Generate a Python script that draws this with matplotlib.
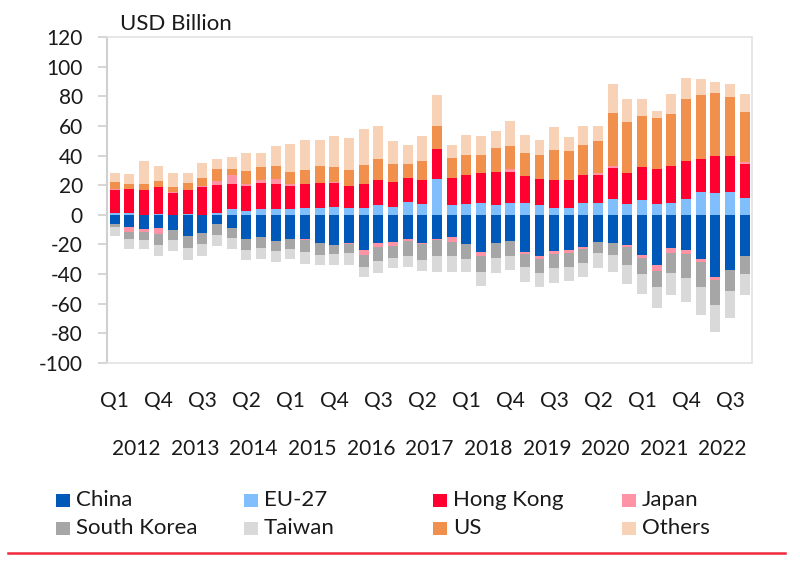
import numpy as np
import matplotlib
matplotlib.use("Agg")
import matplotlib.pyplot as plt
from matplotlib.patches import Rectangle
from matplotlib.lines import Line2D
from matplotlib.ticker import FixedLocator, FixedFormatter

plt.rcParams['font.family'] = ['Lato', 'DejaVu Sans']
plt.rcParams['axes.unicode_minus'] = False

years = [str(y) for y in range(2012, 2023)]
quarter_tick_labels = ['Q1', 'Q4', 'Q3', 'Q2', 'Q1', 'Q4', 'Q3', 'Q2',
                       'Q1', 'Q4', 'Q3', 'Q2', 'Q1', 'Q4', 'Q3']

china = [-6.3, -8, -9.6, -9.1, -10.5, -14.5, -12.5, -6.2, -8.8, -16,
         -15.3, -17.5, -16.6, -16.2, -19.3, -20.2, -19.3, -23.4, -19.3, -18.2,
         -16.4, -18.7, -16, -15.3, -20, -25, -19.3, -17.8, -25.2, -27.9,
         -24.7, -23.8, -22, -18.4, -18.9, -20.5, -27.2, -34, -22.7, -23.4,
         -30.1, -41.8, -36.9, -27.7]
eu27 = [1, 1.4, 0, 0.5, 0, 0.5, 0, 1.4, 3.6, 2.6,
        3.7, 4, 3.6, 4.9, 4.9, 5.4, 4.9, 4.3, 6.5, 5.4,
        8.5, 7, 24.5, 6.7, 7.4, 8.3, 6.5, 7.9, 8.1, 6.5,
        4.9, 4.7, 8.3, 7.9, 10.6, 7.2, 10.3, 7.2, 8.1, 10.6,
        15.1, 14.8, 15.5, 11.5]
hong_kong = [16, 16, 16.7, 18.3, 14.5, 16, 19, 18.7, 17.1, 17,
             17.5, 17.1, 16, 16.2, 16.6, 16, 14.8, 16.4, 17.3, 16.9,
             16.2, 16.4, 19.6, 18.4, 19.6, 19.6, 22.7, 21.1, 18, 17.5,
             18.9, 18.7, 18.4, 19.1, 20.9, 21.1, 22, 23.6, 24.7, 25.6,
             22.5, 25.2, 24.3, 22.7]
japan = [0.4, -3.3, -1.8, -3.6, 1, 0.3, 0.4, 2.9, 6, 1,
         2.2, 3.4, 1.1, -0.9, 0, 0.9, -0.4, -4, -2.7, -2.7,
         -1.1, -0.9, -1.1, -2.7, 0, -2.9, 0, 2, -0.9, -1.8,
         -1.8, -1.8, -0.9, 0.9, 1.3, -1.1, -1.6, -3.8, -2.9, -2.7,
         -1.8, -2.2, 0, 1.6]
south_korea = [-1.8, -5, -5.6, -7.7, -6.7, -7.7, -7.2, -7.2, -6.9, -7.4,
               -6.8, -6.7, -6.3, -8.1, -7.6, -6.3, -6.3, -8.1, -9.4, -7.9,
               -10.1, -10.6, -10.8, -9.9, -9.7, -10.6, -10.1, -10.1, -9.4, -9.4,
               -9.7, -9.4, -9.4, -7.6, -8.3, -12.4, -10.8, -10.8, -13.5, -16.2,
               -16.6, -16.9, -14.4, -11.9]
taiwan = [-6.3, -6.5, -6.3, -7.4, -7.2, -8.5, -7.9, -7.6, -7.6, -7.2,
          -7.5, -7.4, -6.7, -8.1, -7.2, -7.2, -7.6, -6.7, -7.6, -7.2,
          -7.4, -7.9, -10.6, -10.6, -9, -9.7, -10.1, -9, -9.7, -9.9,
          -9.7, -9.4, -9.9, -9.7, -11.5, -12.4, -13.5, -14.6, -15.3, -16.6,
          -19.3, -18, -18.2, -14.6]
us = [4.5, 3.3, 3.9, 3.8, 3.5, 4.4, 5.6, 7.7, 4.3, 8.7,
      9, 8.3, 8.5, 9.4, 11.2, 10.1, 10.8, 12.8, 13.7, 11.9,
      9.4, 12.6, 15.7, 13, 13.7, 12.6, 15.7, 15.5, 15.7, 16.4,
      20.2, 19.8, 20.2, 22, 36.2, 34.4, 34.2, 34.4, 35.5, 41.8,
      43, 42.1, 39.6, 33.3]
others = [6.3, 6.8, 15.7, 10.3, 9.4, 6.8, 9.7, 7.2, 8, 12.4,
          9.2, 13.5, 18.9, 20.2, 17.5, 20.7, 21.4, 24.5, 22.5, 15.5,
          12.8, 17.1, 21.4, 8.8, 13, 12.8, 11.7, 16.9, 12.4, 9.9,
          15.3, 9.4, 12.8, 10.1, 19.6, 15.7, 11.7, 4.9, 13.5, 14.6,
          10.8, 7.6, 8.8, 12.4]

series_names = ['China', 'EU-27', 'Hong Kong', 'Japan',
                'South Korea', 'Taiwan', 'US', 'Others']
series_values = [china, eu27, hong_kong, japan, south_korea, taiwan, us, others]
colors = ['#0058B8', '#80BFFC', '#FF0030', '#FF93A6',
          '#A6A6A6', '#D9D9D9', '#F0904C', '#F8D2B6']

n = len(china)
x = np.arange(n)

W, H = 800, 581
fig = plt.figure(figsize=(8, 5.81), dpi=100)
ax = fig.add_axes([0.134, 0.3752, 0.806, 0.5611])

pos_bottom = np.zeros(n)
neg_bottom = np.zeros(n)
for name, vals, col in zip(series_names, series_values, colors):
    v = np.array(vals, dtype=float)
    b = np.where(v >= 0, pos_bottom, neg_bottom)
    ax.bar(x, v, width=0.68, bottom=b, color=col, label=name, linewidth=0)
    pos_bottom = pos_bottom + np.where(v > 0, v, 0)
    neg_bottom = neg_bottom + np.where(v < 0, v, 0)

txt = '#1a1a1a'
ax.set_xlim(-0.5, n - 0.5)
ax.set_ylim(-100, 120)
ax.set_yticks(np.arange(-100, 121, 20))
ax.tick_params(axis='y', length=6.5, width=1.2, color='#D0D0D0',
               labelsize=15, pad=11, labelcolor=txt)

ax.xaxis.set_major_locator(FixedLocator(np.arange(0, n, 3)))
ax.xaxis.set_major_formatter(FixedFormatter(quarter_tick_labels))
ax.xaxis.set_minor_locator(FixedLocator(np.arange(1.5, n, 4)))
ax.xaxis.set_minor_formatter(FixedFormatter(years))
ax.tick_params(axis='x', which='major', length=0, labelsize=15, pad=20,
               labelcolor=txt)
ax.tick_params(axis='x', which='minor', length=0, labelsize=15, pad=55,
               labelcolor=txt)

for side in ['top', 'right', 'bottom']:
    ax.spines[side].set_color('#E3E3E3')
    ax.spines[side].set_linewidth(1.2)
ax.spines['left'].set_color('#D0D0D0')
ax.spines['left'].set_linewidth(1.5)

fig.text(120 / W, 1 - 24 / H, 'USD Billion', fontsize=16,
         va='center', ha='left', color=txt)

# legend with fixed-width columns
col_x = [56, 244, 433, 622]
row_y = [500, 528]
for i, (name, col) in enumerate(zip(series_names, colors)):
    r, c = divmod(i, 4)
    cx, cy = col_x[c], row_y[r]
    fig.add_artist(Rectangle((cx / W, 1 - (cy + 6.5) / H), 14 / W, 13 / H,
                             transform=fig.transFigure, color=col, lw=0))
    fig.text((cx + 20) / W, 1 - cy / H, name, fontsize=16,
             va='center', ha='left', color=txt)

fig.add_artist(Line2D([8 / W, 785 / W], [1 - 552.7 / H, 1 - 552.7 / H],
                      transform=fig.transFigure, color='#F0283C', lw=1.8))

fig.savefig('out.png', dpi=100)
